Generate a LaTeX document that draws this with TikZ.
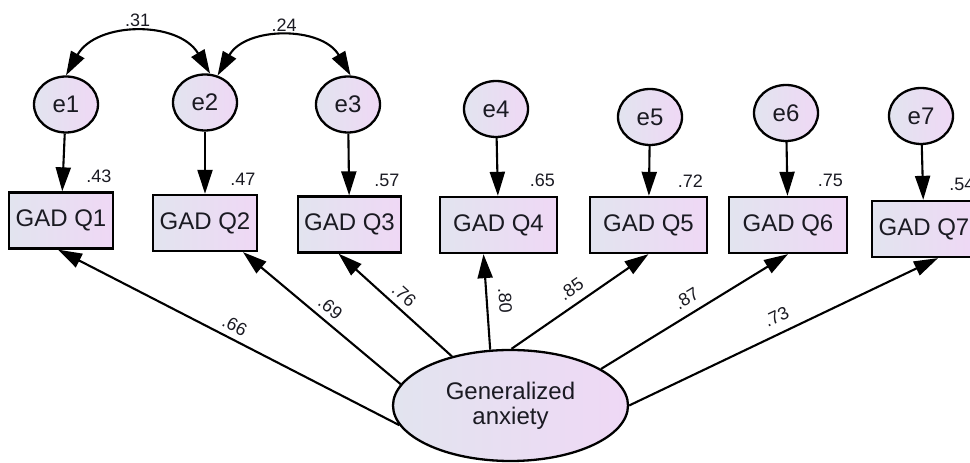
\documentclass[tikz,border=0pt]{standalone}
\usepackage{fontspec}
\setmainfont{Liberation Sans}
\usepackage{xcolor}
\usepackage{tikz}
\usetikzlibrary{positioning,shapes.geometric,arrows.meta}

\definecolor{fillL}{HTML}{E2E4EF}
\definecolor{fillR}{HTML}{EFD8F5}
\definecolor{ink}{HTML}{1A1A22}

\begin{document}
\begin{tikzpicture}[x=1bp,y=1bp,
        font=\fontsize{24bp}{25bp}\selectfont, text=ink,
        err/.style={ellipse,draw,line width=2.3bp,minimum width=\circw,minimum height=\circh,inner sep=0pt,left color=fillL,right color=fillR},
        obs/.style={rectangle,draw,line width=2.3bp,minimum height=56bp,inner sep=0pt,left color=fillL,right color=fillR},
        lat/.style={ellipse,draw,line width=2.3bp,minimum width=235bp,minimum height=111bp,inner sep=0pt,align=center,left color=fillL,right color=fillR},
        num/.style={font=\fontsize{18bp}{20bp}\selectfont,inner sep=1bp},
        arr/.style={-{Triangle[length=24bp,width=15bp]},line width=2.1bp},
        cov/.style={{Triangle[length=24bp,width=15bp]}-{Triangle[length=24bp,width=15bp]},line width=2.1bp}]
        % 误差圆的大小
        \newcommand{\circw}{64bp}
        \newcommand{\circh}{56bp}

        \useasboundingbox (0,0) rectangle (970,463);
        \clip (0,0) rectangle (970,463);

        % 误差项 e1--e7
        \node[err] (e1) at (66,358.5) {e1};
        \node[err] (e2) at (205,360.5) {e2};
        \node[err] (e3) at (348,358.5) {e3};
        \node[err] (e4) at (496,354) {e4};
        \node[err] (e5) at (650,346) {e5};
        \node[err] (e6) at (786,350) {e6};
        \node[err] (e7) at (921,347) {e7};

        % 观测变量
        \node[obs,minimum width=104bp] (q1) at (61,242.5) {GAD Q1};
        \node[obs,minimum width=104bp] (q2) at (205,240) {GAD Q2};
        \node[obs,minimum width=103bp] (q3) at (349.5,238.5) {GAD Q3};
        \node[obs,minimum width=117bp] (q4) at (498.5,238) {GAD Q4};
        \node[obs,minimum width=117bp] (q5) at (648.5,238) {GAD Q5};
        \node[obs,minimum width=118bp] (q6) at (788,238) {GAD Q6};
        \node[obs,minimum width=104bp] (q7) at (924,234) {GAD Q7};

        % 潜变量
        \node[lat] (F) at (510.5,57.5) {Generalized\\anxiety};

        % 误差 -> 观测
        \draw[arr] (e1) -- (q1);
        \draw[arr] (e2) -- (q2);
        \draw[arr] (e3) -- (q3);
        \draw[arr] (e4) -- (q4);
        \draw[arr] (e5) -- (q5);
        \draw[arr] (e6) -- (q6);
        \draw[arr] (e7) -- (q7);

        % R^2
        \node[num,above left=7.5bp and 1.5bp of q1.north east] (r1) {.43};
        \node[num,above left=7.5bp and 1.5bp of q2.north east] (r2) {.47};
        \node[num,above left=7.5bp and 1.5bp of q3.north east] (r3) {.57};
        \node[num,above left=7.5bp and 2bp of q4.north east] (r4) {.65};
        \node[num,above left=7.5bp and 4bp of q5.north east] (r5) {.72};
        \node[num,above left=7.5bp and 4bp of q6.north east] (r6) {.75};
        \node[num,above left=7.5bp and 1.5bp of q7.north east] (r7) {.54};

        % 协方差
        \draw[cov] (e1.north) to[bend left=60,looseness=1.1] node[num,above=5bp] (c12) {.31} (e2.80);
        \draw[cov] (e2.65) to[bend left=60,looseness=1.1] node[num,above=5bp] (c23) {.24} (e3.85);

        % 因子载荷
        \draw[arr] (F.190) -- ([xshift=-3bp]q1.south) node[num,midway,sloped,above=5bp] (l1) {.66};
        \draw[arr] (F.169) -- ([xshift=38bp]q2.south) node[num,midway,sloped,above=5bp] (l2) {.69};
        \draw[arr] (F.140) -- ([xshift=-11bp]q3.south) node[num,midway,sloped,above=5bp] (l3) {.76};
        \draw[arr] (F.110) -- ([xshift=-15bp]q4.south) node[num,midway,sloped,above=10bp] (l4) {.80};
        \draw[arr] (F.89) -- (q5.south) node[num,midway,sloped,above=7bp] (l5) {.85};
        \draw[arr] (F.22) -- (q6.south) node[num,midway,sloped,above=7bp] (l6) {.87};
        \draw[arr] (F.east) -- ([xshift=14bp]q7.south) node[num,midway,sloped,above=8bp] (l7) {.73};
    \end{tikzpicture}
\end{document}
